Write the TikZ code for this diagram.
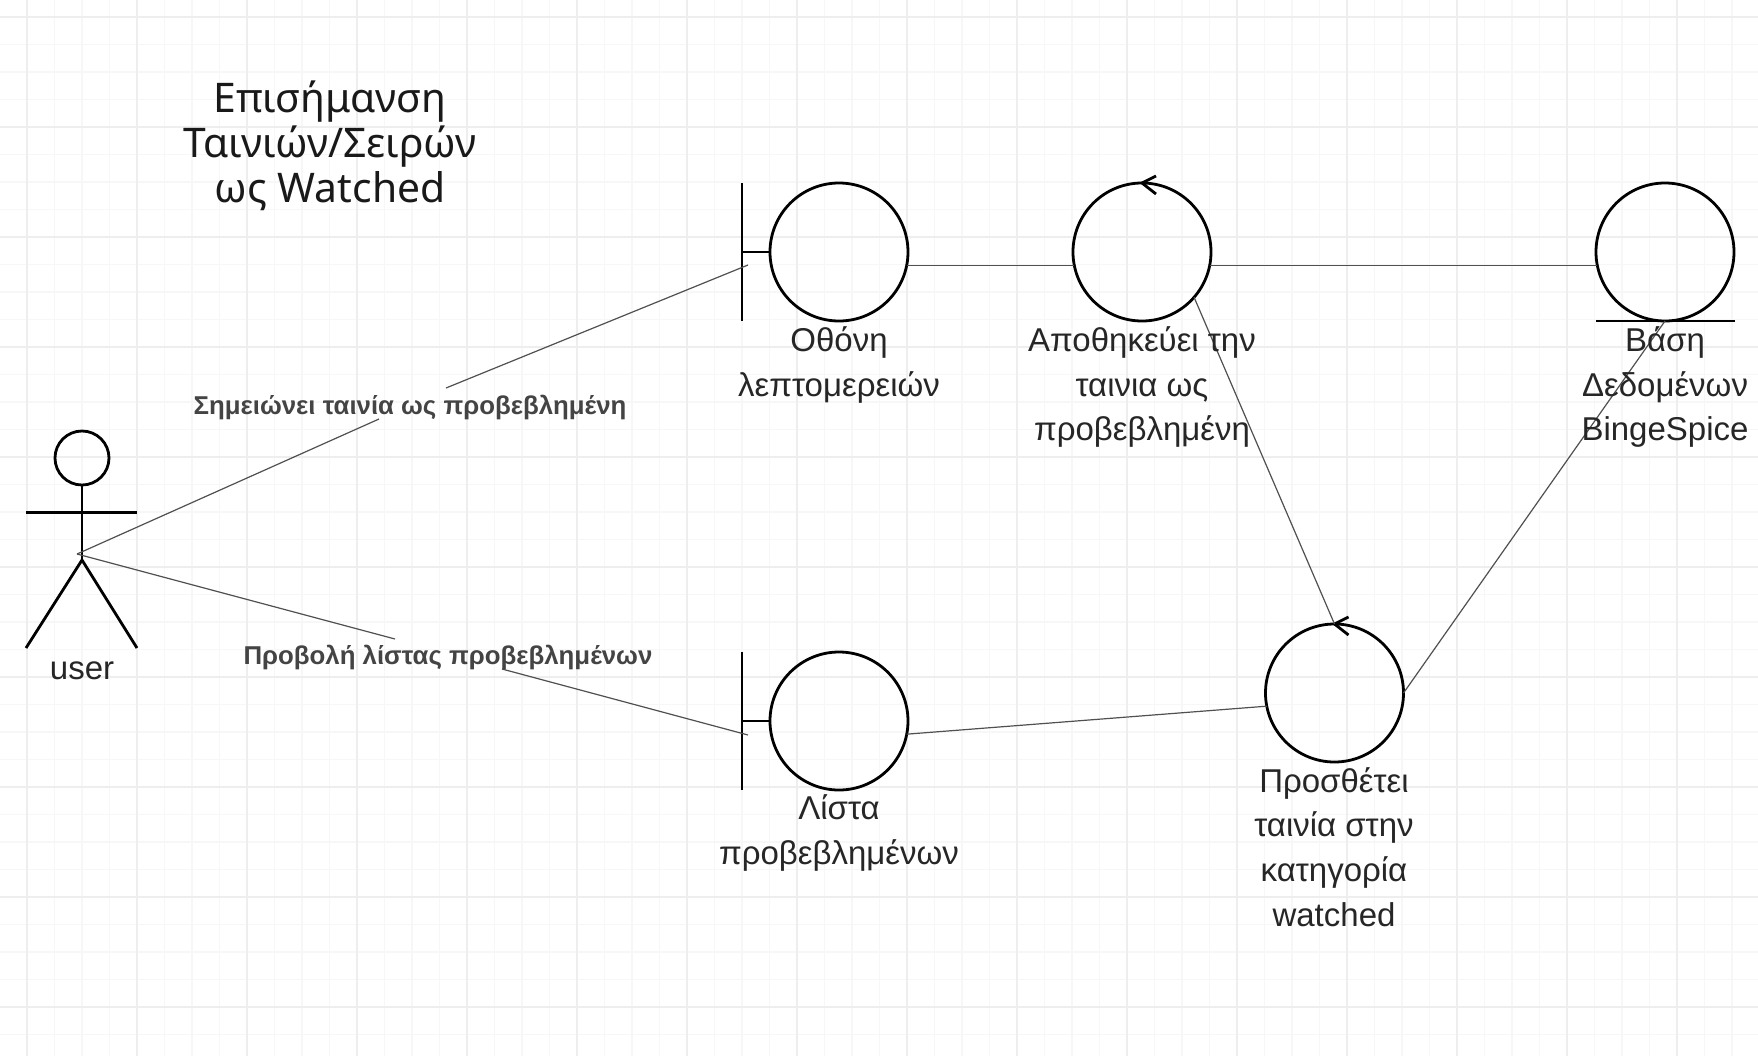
\documentclass[tikz,border=0pt]{standalone}
\usepackage{fontspec}
\usetikzlibrary{calc}
\setmainfont{Liberation Sans}
\newfontfamily\titlefont{Noto Sans}
\definecolor{gridminor}{HTML}{F7F7F7}
\definecolor{gridmajor}{HTML}{EEEEEE}
\definecolor{linkgray}{HTML}{505050}
\definecolor{labelgray}{HTML}{444444}
\tikzset{
  ball/.style={circle, draw=black, line width=1.4pt, minimum size=69pt, inner sep=0pt, outer sep=0pt},
  caption/.style={align=center, font=\fontsize{16.5}{22.3}\selectfont, text=black!85, inner sep=0pt},
  link/.style={draw=linkgray, line width=0.6pt},
  linklabel/.style={font=\fontsize{12.9}{14}\selectfont\bfseries, text=labelgray, inner sep=0pt},
  stickman/.style={line width=1.4pt}
}

\begin{document}
\begin{tikzpicture}[x=0.5pt, y=-0.5pt]
  \useasboundingbox (0,0) rectangle (1758,1056);
  \fill[white] (0,0) rectangle (1758,1056);
  % grid
  \foreach \i in {0,...,63} { \draw[gridminor, line width=0.6pt] ({27+27.5*\i},0) -- ({27+27.5*\i},1056); }
  \foreach \i in {0,...,38} { \draw[gridminor, line width=0.6pt] (0,{17+27.5*\i}) -- (1758,{17+27.5*\i}); }
  \foreach \i in {0,...,15} { \draw[gridmajor, line width=0.7pt] ({27+110*\i},0) -- ({27+110*\i},1056); }
  \foreach \i in {0,...,9} { \draw[gridmajor, line width=0.7pt] (0,{17+110*\i}) -- (1758,{17+110*\i}); }

  % title
  \node[align=center, font=\titlefont\fontsize{20.4}{22.4}\selectfont, text=black!90, inner sep=0pt] (title) at (330,146) {Επισήμανση\\Ταινιών/Σειρών\\ως Watched};

  % actor
  \node[circle, draw=black, line width=1.4pt, minimum size=27pt, inner sep=0pt, outer sep=0pt] (head) at (82,458) {};
  \coordinate (crotch) at (82,560);
  \coordinate (armL) at (26,512.5);
  \coordinate (armR) at (137,512.5);
  \coordinate (footL) at (26,648);
  \coordinate (footR) at (137,648);
  \draw[stickman] (head.south) -- (crotch);
  \draw[stickman] (armL) -- (armR);
  \draw[stickman] (footL) -- (crotch) -- (footR);
  \node[caption] (user) at (82,671) {user};
  \coordinate (hand) at (77,554);

  % boundaries
  \node[ball] (screen) at (839,252) {};
  \coordinate (screenTop) at (742,183);
  \coordinate (screenBot) at (742,321);
  \coordinate (screenMid) at (742,252);
  \draw[stickman] (screenTop) -- (screenBot);
  \draw[stickman] (screenMid) -- (screen.west);
  \node[ball] (list) at (839,721) {};
  \coordinate (listTop) at (742,652);
  \coordinate (listBot) at (742,790);
  \coordinate (listMid) at (742,721);
  \draw[stickman] (listTop) -- (listBot);
  \draw[stickman] (listMid) -- (list.west);

  % controllers
  \node[ball] (store) at (1142,252) {};
  \node[ball] (add) at (1334.5,693) {};
  \foreach \c in {store, add} {
    \draw[stickman] ($(\c.north)+(14,-7)$) -- (\c.north) -- ($(\c.north)+(14,11)$);
  }

  % entity
  \node[ball] (db) at (1665,252) {};
  \coordinate (dbL) at (1596,321);
  \coordinate (dbR) at (1735,321);
  \draw[stickman] (dbL) -- (dbR);

  % links
  \coordinate (screenPort) at (748,265);
  \coordinate (listPort) at (748,735);
  \coordinate (markGapA) at (379,419);
  \coordinate (markGapB) at (446,388);
  \coordinate (viewGapA) at (395,639);
  \coordinate (viewGapB) at (502,669);
  \draw[link] (hand) -- (markGapA);
  \draw[link] (markGapB) -- (screenPort);
  \draw[link] (hand) -- (viewGapA);
  \draw[link] (viewGapB) -- (listPort);
  \draw[link] (screen.-11) -- (store.191);
  \draw[link] (store.-11) -- (db.191);
  \draw[link] (store.-41) -- (add.north);
  \draw[link] (add.east) -- (db.south);
  \draw[link] (list.-11) -- (add.191);

  % link labels
  \node[linklabel] (markLabel) at (410,407) {Σημειώνει ταινία ως προβεβλημένη};
  \node[linklabel] (viewLabel) at (448,657) {Προβολή λίστας προβεβλημένων};

  % captions
  \node[caption] (screenText) at (839,365) {Οθόνη\\λεπτομερειών};
  \node[caption] (storeText) at (1142,387) {Αποθηκεύει την\\ταινια ως\\προβεβλημένη};
  \node[caption] (dbText) at (1665,387) {Βάση\\Δεδομένων\\BingeSpice};
  \node[caption] (listText) at (839,833) {Λίστα\\προβεβλημένων};
  \node[caption] (addText) at (1334,847) {Προσθέτει\\ταινία στην\\κατηγορία\\watched};
\end{tikzpicture}
\end{document}
